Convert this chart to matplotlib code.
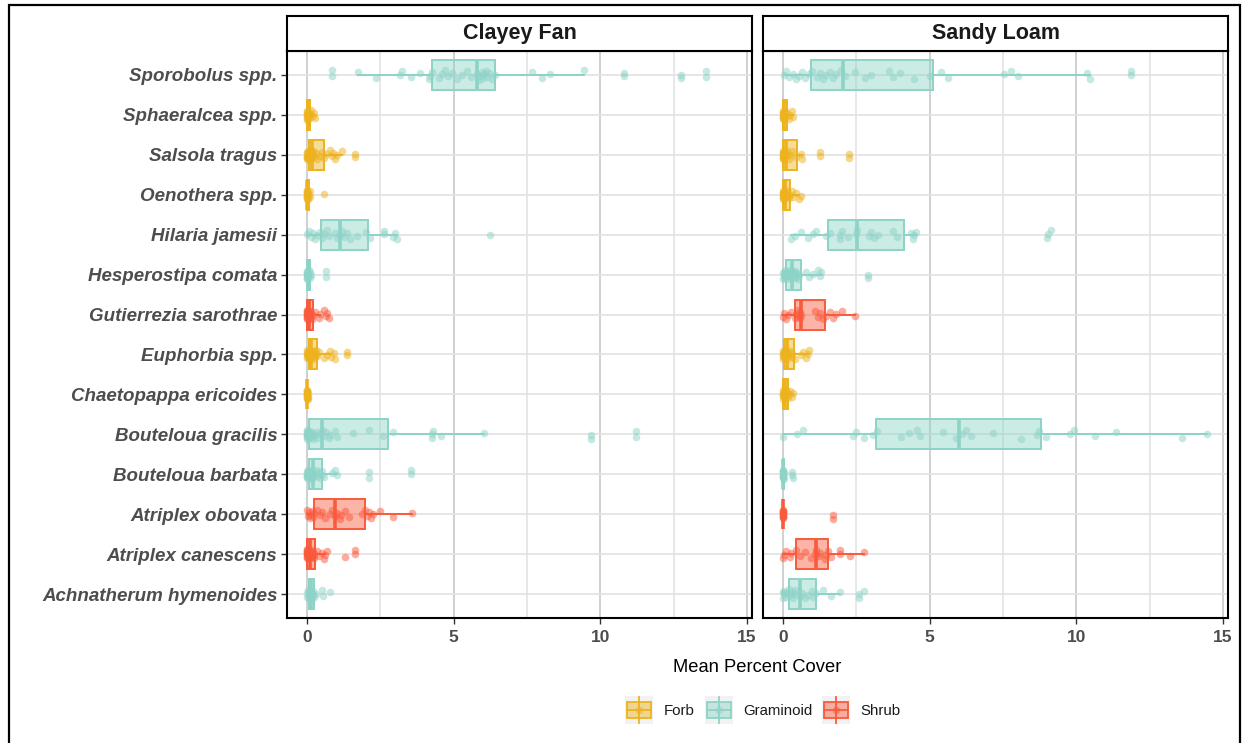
import numpy as np
import matplotlib
matplotlib.use("Agg")
import matplotlib.pyplot as plt
from matplotlib.patches import Rectangle
from matplotlib.lines import Line2D

plt.rcParams['font.family'] = ['Liberation Sans', 'DejaVu Sans']

# ---- categories ----
species = ["Sporobolus spp.", "Sphaeralcea spp.", "Salsola tragus", "Oenothera spp.",
           "Hilaria jamesii", "Hesperostipa comata", "Gutierrezia sarothrae",
           "Euphorbia spp.", "Chaetopappa ericoides", "Bouteloua gracilis",
           "Bouteloua barbata", "Atriplex obovata", "Atriplex canescens",
           "Achnatherum hymenoides"]
functional_type = ["Graminoid", "Forb", "Forb", "Forb", "Graminoid", "Graminoid", "Shrub",
                   "Forb", "Forb", "Graminoid", "Graminoid", "Shrub", "Shrub", "Graminoid"]
type_names = ["Forb", "Graminoid", "Shrub"]
type_colors = ["#EDB21E", "#8DD3C7", "#FA5A3C"]
sites = ["Clayey Fan", "Sandy Loam"]
x_ticks = [0, 5, 10, 15]

# ---- mean percent cover, Clayey Fan ----
cf_sporobolus = [0.87, 0.87, 1.73, 2.36, 3.17, 3.25, 3.53, 3.85, 4.16, 4.2,
                 4.25, 4.5, 4.6, 4.7, 4.8, 4.93, 5.1, 5.3, 5.44, 5.6,
                 5.78, 5.85, 5.9, 5.95, 6.0, 6.05, 6.1, 6.15, 6.2, 6.3,
                 6.4, 7.68, 8.02, 8.3, 9.43, 10.8, 10.8, 12.75, 12.75, 13.6, 13.6]
cf_sphaeralcea = [0, 0, 0, 0, 0, 0, 0, 0.02, 0.03, 0.05, 0.05, 0.08, 0.1, 0.12, 0.15, 0.2, 0.25, 0.28]
cf_salsola = [0, 0, 0, 0, 0, 0.01, 0.02, 0.03, 0.05, 0.06, 0.07, 0.08, 0.1, 0.11, 0.12, 0.14,
              0.15, 0.16, 0.18, 0.2, 0.22, 0.25, 0.3, 0.35, 0.43, 0.5, 0.57, 0.68, 0.77, 0.85,
              0.9, 0.96, 1.04, 1.21, 1.64, 1.64]
cf_oenothera = [0, 0, 0, 0, 0, 0, 0, 0, 0, 0, 0.02, 0.05, 0.08, 0.1, 0.12, 0.59]
cf_hilaria = [0, 0.06, 0.14, 0.19, 0.26, 0.34, 0.43, 0.51, 0.59, 0.68, 0.74, 0.96, 1.02, 1.11,
              1.18, 1.27, 1.36, 1.47, 1.72, 2.02, 2.15, 2.61, 2.61, 2.95, 3.0, 3.06, 6.24]
cf_hesperostipa = [0, 0, 0, 0, 0, 0, 0, 0, 0.02, 0.04, 0.06, 0.08, 0.1, 0.12, 0.15, 0.66, 0.66]
cf_gutierrezia = [0, 0, 0, 0, 0, 0, 0, 0, 0, 0, 0.02, 0.03, 0.05, 0.06, 0.08, 0.1, 0.12, 0.14,
                  0.15, 0.17, 0.2, 0.28, 0.4, 0.45, 0.57, 0.66, 0.68, 0.74]
cf_euphorbia = [0, 0, 0, 0, 0.01, 0.02, 0.03, 0.04, 0.05, 0.06, 0.07, 0.08, 0.09, 0.1, 0.11,
                0.12, 0.13, 0.14, 0.15, 0.17, 0.2, 0.22, 0.25, 0.28, 0.3, 0.32, 0.34, 0.4,
                0.57, 0.68, 0.77, 0.82, 0.91, 0.96, 1.36, 1.36]
cf_chaetopappa = [0, 0, 0, 0, 0, 0, 0, 0, 0, 0, 0.01, 0.02, 0.03, 0.05]
cf_b_gracilis = [0, 0, 0, 0, 0, 0, 0, 0, 0.02, 0.06, 0.08, 0.11, 0.14, 0.17, 0.2, 0.23, 0.3,
                 0.34, 0.43, 0.51, 0.57, 0.66, 0.74, 0.79, 0.96, 1.04, 1.56, 2.1, 2.6, 2.95,
                 4.25, 4.25, 4.31, 4.56, 6.03, 9.69, 9.69, 11.2, 11.2]
cf_b_barbata = [0, 0, 0, 0, 0, 0, 0.02, 0.04, 0.06, 0.07, 0.08, 0.09, 0.1, 0.12, 0.14, 0.16,
                0.18, 0.2, 0.22, 0.25, 0.3, 0.35, 0.4, 0.45, 0.5, 0.52, 0.57, 0.85, 0.96, 1.04,
                2.13, 2.13, 3.55, 3.55]
cf_a_obovata = [0, 0.02, 0.06, 0.1, 0.11, 0.17, 0.2, 0.23, 0.34, 0.43, 0.51, 0.6, 0.79, 0.85,
                0.96, 1.02, 1.11, 1.16, 1.3, 1.42, 1.87, 1.98, 2.06, 2.13, 2.18, 2.24, 2.49,
                2.95, 3.59]
cf_a_canescens = [0, 0, 0, 0, 0, 0, 0, 0, 0.01, 0.01, 0.02, 0.03, 0.04, 0.05, 0.06, 0.07,
                  0.08, 0.09, 0.1, 0.12, 0.13, 0.15, 0.18, 0.2, 0.22, 0.24, 0.25, 0.34, 0.4,
                  0.51, 0.57, 0.62, 0.68, 1.28, 1.64, 1.64]
cf_achnatherum = [0, 0, 0.04, 0.06, 0.07, 0.08, 0.1, 0.12, 0.14, 0.15, 0.17, 0.2, 0.22, 0.25,
                  0.3, 0.51, 0.55, 0.79]

# ---- mean percent cover, Sandy Loam ----
sl_sporobolus = [0.02, 0.11, 0.2, 0.34, 0.43, 0.54, 0.65, 0.74, 0.88, 1.0, 1.16, 1.25, 1.36,
                 1.47, 1.59, 1.7, 1.8, 1.98, 2.1, 2.47, 2.79, 3.0, 3.62, 3.76, 4.0, 4.47, 5.0,
                 5.4, 5.64, 7.53, 7.76, 8.02, 10.36, 10.45, 11.87, 11.87]
sl_sphaeralcea = [0, 0, 0, 0, 0, 0, 0, 0, 0.02, 0.05, 0.08, 0.1, 0.15, 0.2, 0.25, 0.3, 0.34]
sl_salsola = [0, 0, 0, 0, 0, 0, 0, 0, 0.02, 0.05, 0.08, 0.1, 0.12, 0.15, 0.2, 0.25, 0.3,
              0.45, 0.6, 0.66, 1.27, 1.27, 2.24, 2.24]
sl_oenothera = [0, 0, 0, 0, 0, 0, 0, 0, 0.02, 0.04, 0.06, 0.08, 0.1, 0.12, 0.15, 0.2, 0.25,
                0.3, 0.35, 0.45, 0.55, 0.62]
sl_hilaria = [0.28, 0.4, 0.62, 0.85, 1.02, 1.13, 1.47, 1.59, 1.93, 1.93, 2.0, 2.21, 2.49,
              2.51, 2.94, 3.0, 3.11, 3.23, 3.74, 3.9, 4.36, 4.42, 4.47, 4.55, 9.0, 9.04, 9.15]
sl_hesperostipa = [0, 0.01, 0.02, 0.03, 0.05, 0.06, 0.08, 0.1, 0.12, 0.15, 0.18, 0.2, 0.22,
                   0.25, 0.28, 0.3, 0.33, 0.36, 0.4, 0.42, 0.45, 0.48, 0.5, 0.54, 0.79, 0.88,
                   1.02, 1.19, 1.27, 1.3, 2.89, 2.89]
sl_gutierrezia = [0, 0.02, 0.09, 0.17, 0.28, 0.4, 0.45, 0.51, 0.54, 0.57, 0.59, 0.62, 1.08,
                  1.19, 1.25, 1.36, 1.47, 1.59, 1.7, 1.81, 2.02, 2.47]
sl_euphorbia = [0, 0, 0, 0, 0, 0.02, 0.05, 0.08, 0.1, 0.12, 0.14, 0.16, 0.2, 0.25, 0.3, 0.32,
                0.4, 0.62, 0.68, 0.79, 0.85, 0.9]
sl_chaetopappa = [0, 0, 0, 0, 0, 0, 0.02, 0.05, 0.08, 0.1, 0.12, 0.15, 0.17, 0.2, 0.25, 0.3, 0.34]
sl_b_gracilis = [0, 0.48, 0.68, 2.4, 2.49, 2.75, 3.06, 3.2, 4.04, 4.3, 4.56, 4.67, 5.47, 5.89,
                 6.12, 6.25, 6.4, 7.16, 8.1, 8.66, 8.72, 8.97, 9.8, 9.91, 10.62, 11.36, 13.61,
                 14.44]
sl_b_barbata = [0, 0, 0, 0, 0, 0, 0, 0, 0, 0, 0.02, 0.04, 0.3, 0.32, 0.34]
sl_a_obovata = [0, 0, 0, 0, 0, 0, 0, 0, 0, 0, 0, 0, 1.72, 1.72]
sl_a_canescens = [0, 0.02, 0.11, 0.23, 0.28, 0.45, 0.59, 0.74, 0.96, 1.08, 1.13, 1.22, 1.25,
                  1.42, 1.47, 1.53, 1.64, 1.93, 1.93, 2.27, 2.77]
sl_achnatherum = [0, 0, 0.02, 0.05, 0.1, 0.15, 0.2, 0.25, 0.3, 0.34, 0.37, 0.4, 0.57, 0.66,
                  0.74, 0.85, 0.99, 1.02, 1.13, 1.36, 1.64, 1.96, 2.6, 2.6, 2.77]

clayey_fan = [cf_sporobolus, cf_sphaeralcea, cf_salsola, cf_oenothera, cf_hilaria,
              cf_hesperostipa, cf_gutierrezia, cf_euphorbia, cf_chaetopappa, cf_b_gracilis,
              cf_b_barbata, cf_a_obovata, cf_a_canescens, cf_achnatherum]
sandy_loam = [sl_sporobolus, sl_sphaeralcea, sl_salsola, sl_oenothera, sl_hilaria,
              sl_hesperostipa, sl_gutierrezia, sl_euphorbia, sl_chaetopappa, sl_b_gracilis,
              sl_b_barbata, sl_a_obovata, sl_a_canescens, sl_achnatherum]

color_of = dict(zip(type_names, type_colors))

# ---- layout (pixels) ----
W, H = 1243, 743
fig = plt.figure(figsize=(W / 100, H / 100), dpi=100)


def fx(px):
    return px / W


def fy(py):
    return 1 - py / H


panels = [(287, 752), (763, 1228)]
strip_top, panel_top, panel_bottom = 16, 51, 618
label_color = "#4D4D4D"
positions = np.arange(len(species))
point_size = 30

for k, ((x0, x1), site, groups) in enumerate(zip(panels, sites, [clayey_fan, sandy_loam])):
    ax = fig.add_axes([fx(x0), fy(panel_bottom), (x1 - x0) / W, (panel_bottom - panel_top) / H])
    ax.set_xlim(-0.68, 15.17)
    ax.set_ylim(len(species) - 0.4, -0.6)
    ax.set_axisbelow(True)
    ax.set_xticks(x_ticks)
    ax.set_xticks([2.5, 7.5, 12.5], minor=True)
    ax.set_yticks(positions)
    ax.grid(which='major', axis='x', color='#C4C4C4', lw=1.1)
    ax.grid(which='minor', axis='x', color='#E2E2E2', lw=1.1)
    ax.grid(which='major', axis='y', color='#E2E2E2', lw=1.2)
    for sp in ax.spines.values():
        sp.set_linewidth(1.5)
        sp.set_color('black')
    ax.tick_params(axis='x', which='major', length=4, width=1.0, color='#333333',
                   labelsize=12.5, labelcolor=label_color, pad=5)
    ax.tick_params(axis='x', which='minor', length=0)
    for t in ax.get_xticklabels():
        t.set_fontweight('bold')
    if k == 0:
        ax.set_yticklabels(species, fontsize=13.5, fontweight='bold', fontstyle='italic',
                           color=label_color)
        ax.tick_params(axis='y', length=4, width=1.0, color='#333333', pad=3)
    else:
        ax.set_yticklabels([])
        ax.tick_params(axis='y', length=0)

    bp = ax.boxplot(groups, positions=positions, widths=0.75, orientation='horizontal',
                    patch_artist=True, showfliers=False, showcaps=False, whis=1.5,
                    manage_ticks=False)
    for i, ft in enumerate(functional_type):
        c = color_of[ft]
        box = bp['boxes'][i]
        box.set_facecolor(matplotlib.colors.to_rgba(c, 0.45))
        box.set_edgecolor(c)
        box.set_linewidth(1.4)
        box.set_zorder(2)
        med = bp['medians'][i]
        med.set_color(c)
        med.set_linewidth(2.6)
        med.set_zorder(2.1)
        for w in bp['whiskers'][2 * i:2 * i + 2]:
            w.set_color(c)
            w.set_linewidth(1.4)
            w.set_zorder(2)

        vals = np.asarray(groups[i], dtype=float)
        n = len(vals)
        # vertical jitter from a low-discrepancy sequence
        jit = ((np.arange(n) * 0.6180339887 + 0.37 * i + 0.5 * k) % 1.0 - 0.5) * 2 * 0.12
        ax.scatter(vals, positions[i] + jit, s=point_size, color=c, alpha=0.5, linewidths=0,
                   zorder=3)

    # facet strip
    sax = fig.add_axes([fx(x0), fy(panel_top), (x1 - x0) / W, (panel_top - strip_top) / H])
    sax.set_xticks([])
    sax.set_yticks([])
    for sp in sax.spines.values():
        sp.set_linewidth(1.5)
        sp.set_color('black')
    sax.text(0.5, 0.5, site, ha='center', va='center', fontsize=15.5, fontweight='bold',
             color='#1A1A1A', transform=sax.transAxes)

# axis title
fig.text(fx(757), fy(667), "Mean Percent Cover", ha='center', va='center', fontsize=13.2,
         color='black')

# legend
key_x = [625, 705, 822]
text_x = [664, 743, 860]
key_w, key_h, key_top = 28, 28, 696
for name, c, kx, tx in zip(type_names, type_colors, key_x, text_x):
    kax = fig.add_axes([fx(kx), fy(key_top + key_h), key_w / W, key_h / H])
    kax.set_xlim(0, 1)
    kax.set_ylim(0, 1)
    kax.axis('off')
    kax.add_patch(Rectangle((0, 0), 1, 1, facecolor='#F2F2F2', edgecolor='none'))
    kax.add_line(Line2D([0.5, 0.5], [0.04, 0.96], color=c, lw=1.3))
    kax.add_patch(Rectangle((0.08, 0.22), 0.84, 0.56, facecolor=matplotlib.colors.to_rgba(c, 0.45),
                            edgecolor=c, lw=1.3))
    kax.add_line(Line2D([0.08, 0.92], [0.5, 0.5], color=c, lw=1.3))
    kax.scatter([0.5], [0.5], s=point_size, color=c, alpha=0.5, linewidths=0)
    fig.text(fx(tx), fy(711), name, ha='left', va='center', fontsize=10.8, color='#1A1A1A')

# outer frame
fig.patches.append(Rectangle((fx(8.5), fy(750)), (1239.5 - 8.5) / W, (750 - 5) / H,
                             transform=fig.transFigure, fill=False, edgecolor='black', lw=1.6))

fig.savefig("out.png", dpi=100, facecolor='white')
